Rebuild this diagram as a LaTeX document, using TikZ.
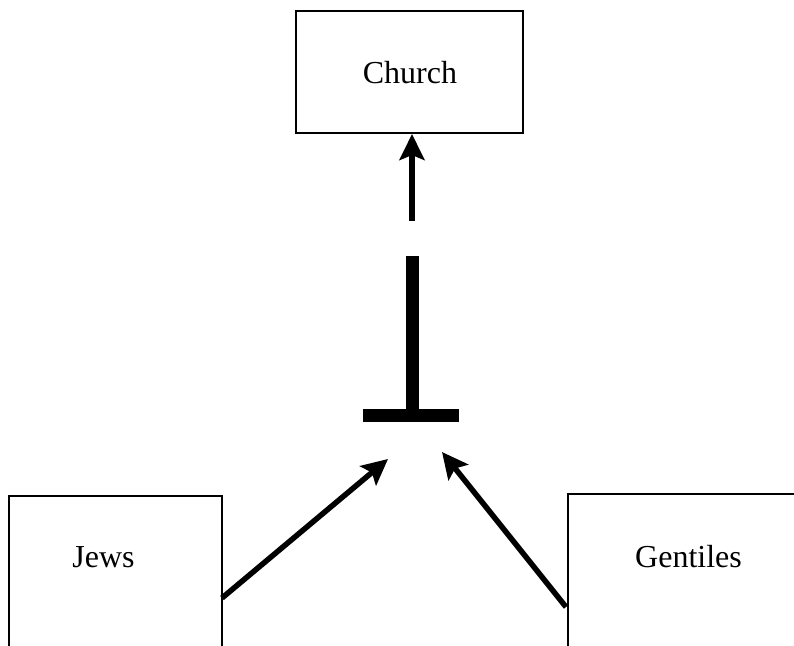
\documentclass[tikz,border=0pt]{standalone}
\usepackage{fontspec}
\setmainfont{Liberation Serif}
\usetikzlibrary{arrows.meta}
\begin{document}
\begin{tikzpicture}[x=1pt,y=-1pt,
  txt/.style={anchor=base,inner sep=0pt,font=\fontsize{32}{38}\selectfont},
  arr/.style={line width=5.5pt,-{Stealth[length=26pt,width=25pt,inset=5pt]}},
  boxline/.style={line width=2.2pt}]
\useasboundingbox (0,0) rectangle (794,645);
\begin{scope}
\clip (0,0) rectangle (794,645);
\draw[boxline] (296,11) rectangle (523,133);
\draw[boxline] (9,665) |- (222,496) -- (222,665);
\draw[boxline] (568,665) |- (820,494);
\end{scope}
\node[txt] (church) at (410,83) {Church};
\node[txt] (jews) at (103.5,567.5) {Jews};
\node[txt] (gentiles) at (688.5,567) {Gentiles};
% inverted T
\fill (406,256) rectangle (419,416);
\fill (363,409) rectangle (459,422);
\coordinate (ctail) at (412,221);
\coordinate (ctip) at (412,134);
\coordinate (jstart) at (222,598);
\coordinate (jtip) at (388,459);
\coordinate (gstart) at (566,607);
\coordinate (gtip) at (442,452);
\draw[arr] (ctail) -- (ctip);
\draw[arr] (jstart) -- (jtip);
\draw[arr] (gstart) -- (gtip);
\end{tikzpicture}
\end{document}
